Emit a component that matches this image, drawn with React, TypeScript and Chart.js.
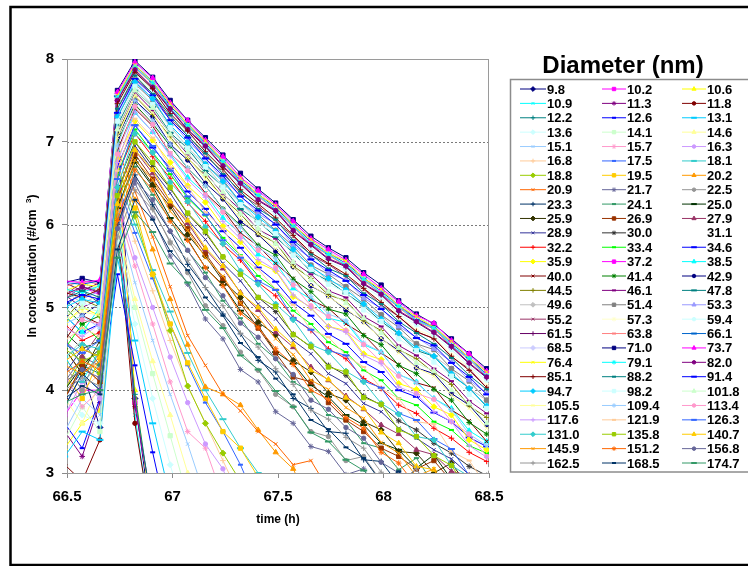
import React, { useEffect, useRef } from "react";
import { Chart, registerables } from "chart.js";
import { drawPoint } from "chart.js/helpers";

Chart.register(...registerables);

const FONT = '"Liberation Sans", Arial, sans-serif';

// time (h) of each measurement
const times = [
  66.489, 66.572, 66.656, 66.739, 66.822, 66.906, 66.989, 67.072, 67.156, 67.239,
  67.322, 67.406, 67.489, 67.572, 67.656, 67.739, 67.822, 67.906, 67.989, 68.072,
  68.156, 68.239, 68.322, 68.406, 68.489,
];

// diameters (nm), legend order
const diameters = [
  "9.8", "10.2", "10.6", "10.9", "11.3", "11.8", "12.2", "12.6", "13.1",
  "13.6", "14.1", "14.6", "15.1", "15.7", "16.3", "16.8", "17.5", "18.1",
  "18.8", "19.5", "20.2", "20.9", "21.7", "22.5", "23.3", "24.1", "25.0",
  "25.9", "26.9", "27.9", "28.9", "30.0", "31.1", "32.2", "33.4", "34.6",
  "35.9", "37.2", "38.5", "40.0", "41.4", "42.9", "44.5", "46.1", "47.8",
  "49.6", "51.4", "53.3", "55.2", "57.3", "59.4", "61.5", "63.8", "66.1",
  "68.5", "71.0", "73.7", "76.4", "79.1", "82.0", "85.1", "88.2", "91.4",
  "94.7", "98.2", "101.8", "105.5", "109.4", "113.4", "117.6", "121.9", "126.3",
  "131.0", "135.8", "140.7", "145.9", "151.2", "156.8", "162.5", "168.5", "174.7",
];

// ln concentration (#/cm3) per diameter, one row per series (values at times[k])
const lnConc: number[][] = [
  [3.90, 4.25, 3.55, 7.10, 3.90, 2.30],
  [3.70, 4.00, 4.00, 6.90, 3.85, 2.50],
  [3.30, 3.60, 3.75, 6.70, 4.00, 2.40],
  [4.40, 4.10, 4.50, 6.40, 3.70, 2.20],
  [3.50, 3.20, 3.85, 6.20, 3.80, 2.60],
  [3.10, 2.90, 3.40, 6.00, 3.60, 2.30],
  [4.60, 4.30, 4.20, 5.80, 3.95, 2.50],
  [3.60, 3.30, 3.90, 5.40, 4.30, 3.25, 2.30],
  [3.20, 3.50, 3.40, 5.60, 4.60, 3.60, 2.70],
  [4.00, 3.70, 3.60, 5.80, 4.80, 3.90, 3.10, 2.40],
  [3.40, 3.80, 3.50, 5.90, 5.00, 4.20, 3.45, 2.70],
  [3.90, 3.60, 4.10, 6.00, 5.10, 4.35, 3.70, 3.00, 2.40],
  [3.50, 3.90, 3.70, 6.10, 5.30, 4.60, 3.95, 3.35, 2.70],
  [4.20, 3.80, 4.00, 6.20, 5.50, 4.80, 4.10, 3.50, 3.30, 2.70],
  [3.70, 4.10, 3.90, 6.30, 5.60, 5.00, 4.40, 3.85, 3.35, 3.05, 2.50],
  [4.30, 4.00, 4.20, 6.40, 5.80, 5.20, 4.60, 4.05, 3.60, 3.15, 2.70],
  [3.80, 4.20, 4.00, 6.50, 5.90, 5.35, 4.80, 4.30, 3.85, 3.50, 3.10, 2.60],
  [4.40, 4.10, 4.30, 6.60, 6.00, 5.45, 4.95, 4.45, 4.00, 3.65, 3.30, 3.00, 2.60],
  [4.00, 4.40, 4.20, 6.70, 6.10, 5.40, 4.72, 4.05, 3.60, 3.24, 2.90, 2.50],
  [4.20, 3.90, 4.40, 6.70, 6.20, 5.40, 4.80, 4.33, 3.90, 3.50, 3.30, 2.95, 2.50],
  [3.90, 4.30, 4.10, 6.80, 6.30, 5.70, 5.10, 4.55, 4.04, 3.95, 3.82, 3.52, 3.25, 3.05, 2.60],
  [4.50, 4.20, 4.40, 6.90, 6.40, 5.85, 5.25, 4.66, 4.30, 3.95, 3.75, 3.50, 3.35, 3.10, 3.15, 2.80, 2.40],
  [4.10, 4.40, 4.30, 6.00, 6.50, 6.08, 5.62, 5.28, 4.86, 4.62, 4.25, 4.10, 3.74, 3.60, 3.32, 3.26, 2.98, 3.05, 2.70, 2.35],
  [4.30, 4.00, 4.50, 6.10, 6.55, 6.20, 5.78, 5.42, 5.02, 4.78, 4.46, 4.24, 3.95, 3.80, 3.50, 3.44, 3.15, 3.20, 2.90, 3.02, 2.60],
  [3.80, 4.20, 4.00, 6.00, 6.60, 6.24, 5.92, 5.52, 5.24, 4.92, 4.68, 4.36, 4.22, 3.90, 3.78, 3.50, 3.48, 3.16, 3.14, 2.86, 3.05, 2.70, 2.40],
  [4.40, 4.60, 4.30, 6.20, 6.70, 6.36, 6.06, 5.68, 5.42, 5.08, 4.87, 4.56, 4.38, 4.10, 3.98, 3.70, 3.64, 3.36, 3.30, 3.04, 3.18, 2.86, 2.74, 2.45],
  [4.00, 4.30, 4.50, 6.20, 6.75, 6.46, 6.08, 5.82, 5.48, 5.27, 4.96, 4.78, 4.46, 4.32, 4.06, 3.92, 3.70, 3.58, 3.36, 3.28, 3.06, 3.22, 2.92, 2.70, 2.84],
  [4.50, 4.20, 4.60, 6.30, 6.80, 6.48, 6.22, 5.88, 5.62, 5.32, 5.12, 4.82, 4.67, 4.36, 4.22, 3.96, 3.88, 3.62, 3.52, 3.26, 3.24, 3.00, 3.12, 2.82, 2.72],
  [3.90, 4.30, 4.10, 6.30, 6.85, 6.55, 6.25, 5.95, 5.65, 5.35, 5.05, 4.75, 4.45, 4.16, 4.10, 3.85, 3.64, 3.50, 3.30, 3.20, 3.05, 3.15, 2.90, 2.75, 2.80],
  [4.60, 4.40, 4.70, 6.40, 6.90, 6.62, 6.28, 6.02, 5.70, 5.47, 5.18, 4.97, 4.70, 4.52, 4.28, 4.12, 3.93, 3.77, 3.58, 3.47, 3.28, 3.22, 3.02, 2.97, 2.78],
  [4.20, 4.50, 4.40, 6.40, 6.95, 6.66, 6.38, 6.06, 5.82, 5.53, 5.32, 5.04, 4.86, 4.60, 4.44, 4.20, 4.08, 3.84, 3.74, 3.54, 3.42, 3.28, 3.17, 2.98, 2.92],
  [4.70, 4.50, 4.60, 6.50, 7.00, 6.70, 6.44, 6.13, 5.90, 5.61, 5.40, 5.12, 4.95, 4.68, 4.52, 4.30, 4.18, 3.93, 3.82, 3.63, 3.52, 3.36, 3.24, 3.08, 2.97],
  [4.40, 4.60, 4.50, 6.50, 7.05, 6.77, 6.48, 6.20, 5.95, 5.70, 5.45, 5.23, 5.00, 4.80, 4.60, 4.42, 4.25, 4.06, 3.90, 3.74, 3.60, 3.46, 3.30, 3.18, 3.05],
  [4.80, 4.60, 4.70, 6.60, 7.10, 6.82, 6.56, 6.26, 6.04, 5.76, 5.57, 5.30, 5.14, 4.88, 4.72, 4.50, 4.38, 4.14, 4.02, 3.82, 3.72, 3.54, 3.42, 3.25, 3.14],
  [4.50, 4.80, 4.60, 6.60, 7.15, 6.87, 6.61, 6.32, 6.11, 5.84, 5.63, 5.38, 5.22, 4.96, 4.80, 4.58, 4.46, 4.24, 4.12, 3.90, 3.82, 3.62, 3.52, 3.33, 3.24],
  [4.90, 4.70, 4.80, 6.70, 7.20, 6.93, 6.68, 6.40, 6.19, 5.92, 5.72, 5.48, 5.31, 5.06, 4.90, 4.68, 4.56, 4.34, 4.22, 4.00, 3.92, 3.73, 3.62, 3.43, 3.32],
  [4.80, 5.00, 4.90, 6.80, 7.25, 7.02, 6.75, 6.47, 6.27, 5.98, 5.79, 5.54, 5.44, 5.13, 5.00, 4.77, 4.72, 4.44, 4.37, 4.08, 4.01, 3.80, 3.70, 3.40, 3.28],
  [5.10, 5.25, 5.15, 7.50, 7.90, 7.71, 7.40, 7.20, 6.95, 6.77, 6.50, 6.36, 6.16, 5.99, 5.75, 5.65, 5.49, 5.35, 5.15, 5.02, 4.85, 4.76, 4.52, 4.40, 4.16],
  [4.90, 4.70, 5.00, 6.90, 7.35, 7.12, 6.85, 6.57, 6.37, 6.08, 5.89, 5.64, 5.54, 5.23, 5.10, 4.87, 4.82, 4.55, 4.46, 4.19, 4.10, 3.90, 3.78, 3.51, 3.38],
  [4.60, 4.90, 4.80, 6.90, 7.40, 7.19, 6.86, 6.66, 6.38, 6.18, 5.90, 5.74, 5.53, 5.35, 5.09, 4.99, 4.80, 4.67, 4.45, 4.31, 4.09, 4.03, 3.76, 3.63, 3.38],
  [5.00, 4.80, 4.90, 7.00, 7.45, 7.22, 6.95, 6.68, 6.47, 6.19, 5.99, 5.75, 5.63, 5.34, 5.19, 4.98, 4.92, 4.66, 4.55, 4.30, 4.20, 4.01, 3.88, 3.61, 3.47],
  [5.10, 4.90, 5.05, 7.05, 7.50, 7.30, 6.97, 6.78, 6.50, 6.31, 6.04, 5.88, 5.68, 5.49, 5.26, 5.14, 4.97, 4.83, 4.62, 4.48, 4.27, 4.20, 3.96, 3.82, 3.58],
  [4.85, 5.10, 5.00, 7.10, 7.55, 7.33, 7.06, 6.80, 6.59, 6.32, 6.13, 5.89, 5.78, 5.50, 5.35, 5.15, 5.08, 4.84, 4.72, 4.49, 4.38, 4.21, 4.07, 3.81, 3.67],
  [5.15, 5.00, 5.10, 7.15, 7.60, 7.38, 7.10, 6.85, 6.63, 6.37, 6.18, 5.94, 5.83, 5.55, 5.40, 5.20, 5.12, 4.89, 4.77, 4.54, 4.42, 4.26, 4.11, 3.87, 3.72],
  [5.00, 5.20, 5.05, 7.20, 7.62, 7.42, 7.11, 6.92, 6.65, 6.46, 6.19, 6.04, 5.85, 5.66, 5.43, 5.32, 5.17, 5.02, 4.83, 4.68, 4.48, 4.41, 4.18, 4.03, 3.80],
  [5.20, 5.05, 5.15, 7.25, 7.66, 7.44, 7.19, 6.93, 6.72, 6.46, 6.27, 6.04, 5.93, 5.66, 5.51, 5.32, 5.25, 5.02, 4.91, 4.68, 4.56, 4.41, 4.26, 4.02, 3.88],
  [5.10, 5.25, 5.20, 7.30, 7.70, 7.50, 7.20, 6.99, 6.73, 6.54, 6.27, 6.12, 5.93, 5.74, 5.51, 5.40, 5.25, 5.10, 4.91, 4.76, 4.56, 4.49, 4.26, 4.11, 3.88],
  [5.25, 5.10, 5.20, 7.35, 7.74, 7.52, 7.27, 7.01, 6.80, 6.55, 6.35, 6.13, 6.01, 5.75, 5.59, 5.41, 5.33, 5.11, 4.99, 4.77, 4.64, 4.50, 4.34, 4.12, 3.96],
  [5.15, 5.30, 5.20, 7.40, 7.77, 7.58, 7.28, 7.08, 6.83, 6.64, 6.37, 6.23, 6.04, 5.86, 5.63, 5.52, 5.37, 5.22, 5.03, 4.89, 4.70, 4.63, 4.40, 4.26, 4.03],
  [5.20, 5.10, 5.25, 7.42, 7.80, 7.61, 7.31, 7.10, 6.86, 6.66, 6.41, 6.25, 6.07, 5.88, 5.66, 5.54, 5.40, 5.24, 5.06, 4.91, 4.73, 4.65, 4.43, 4.28, 4.06],
  [5.25, 5.30, 5.20, 7.45, 7.83, 7.62, 7.36, 7.11, 6.91, 6.67, 6.46, 6.26, 6.13, 5.89, 5.72, 5.55, 5.46, 5.25, 5.12, 4.92, 4.79, 4.66, 4.49, 4.29, 4.12],
  [5.30, 5.20, 5.30, 7.50, 7.86, 7.65, 7.39, 7.14, 6.94, 6.70, 6.49, 6.29, 6.16, 5.92, 5.75, 5.58, 5.49, 5.28, 5.15, 4.95, 4.82, 4.69, 4.52, 4.32, 4.15],
  [5.25, 5.32, 5.28, 7.52, 7.89, 7.70, 7.40, 7.19, 6.95, 6.75, 6.50, 6.34, 6.17, 5.97, 5.76, 5.63, 5.50, 5.33, 5.16, 5.00, 4.83, 4.74, 4.53, 4.37, 4.16],
  [5.30, 5.28, 5.32, 7.55, 7.92, 7.73, 7.43, 7.22, 6.98, 6.78, 6.53, 6.37, 6.20, 6.00, 5.79, 5.66, 5.53, 5.36, 5.19, 5.03, 4.86, 4.77, 4.56, 4.40, 4.19],
  [5.28, 5.33, 5.30, 7.58, 7.94, 7.75, 7.45, 7.24, 7.00, 6.80, 6.55, 6.39, 6.22, 6.02, 5.81, 5.68, 5.55, 5.38, 5.21, 5.05, 4.88, 4.79, 4.58, 4.42, 4.21],
  [5.30, 5.35, 5.30, 7.62, 7.98, 7.78, 7.50, 7.26, 7.05, 6.84, 6.62, 6.43, 6.26, 6.06, 5.86, 5.72, 5.60, 5.42, 5.27, 5.08, 4.92, 4.80, 4.62, 4.44, 4.26],
  [5.32, 5.30, 5.33, 7.60, 7.96, 7.77, 7.47, 7.26, 7.02, 6.82, 6.57, 6.41, 6.24, 6.04, 5.83, 5.70, 5.57, 5.40, 5.23, 5.07, 4.90, 4.81, 4.60, 4.44, 4.23],
  [5.20, 5.28, 5.25, 7.56, 7.93, 7.72, 7.46, 7.21, 7.01, 6.77, 6.56, 6.36, 6.23, 5.99, 5.82, 5.65, 5.56, 5.35, 5.22, 5.02, 4.89, 4.76, 4.59, 4.39, 4.22],
  [5.22, 5.18, 5.26, 7.53, 7.90, 7.71, 7.41, 7.20, 6.96, 6.76, 6.51, 6.35, 6.18, 5.98, 5.77, 5.64, 5.51, 5.34, 5.17, 5.01, 4.84, 4.75, 4.54, 4.38, 4.17],
  [5.15, 5.25, 5.18, 7.50, 7.87, 7.66, 7.40, 7.15, 6.95, 6.71, 6.50, 6.30, 6.17, 5.93, 5.76, 5.59, 5.50, 5.29, 5.16, 4.96, 4.83, 4.70, 4.53, 4.33, 4.16],
  [5.18, 5.12, 5.22, 7.46, 7.84, 7.64, 7.34, 7.13, 6.88, 6.67, 6.42, 6.25, 6.08, 5.87, 5.66, 5.53, 5.40, 5.23, 5.06, 4.89, 4.71, 4.62, 4.41, 4.24, 4.03],
  [5.10, 5.20, 5.12, 7.40, 7.80, 7.58, 7.32, 7.07, 6.86, 6.61, 6.40, 6.19, 6.06, 5.81, 5.64, 5.47, 5.38, 5.17, 5.04, 4.83, 4.69, 4.56, 4.39, 4.18, 4.01],
  [5.05, 5.15, 5.10, 7.35, 7.76, 7.56, 7.26, 7.05, 6.80, 6.59, 6.34, 6.17, 6.00, 5.79, 5.58, 5.45, 5.32, 5.15, 4.98, 4.81, 4.63, 4.54, 4.33, 4.16, 3.95],
  [5.00, 5.10, 5.05, 7.30, 7.72, 7.52, 7.20, 6.99, 6.73, 6.52, 6.27, 6.09, 5.92, 5.70, 5.49, 5.35, 5.21, 5.04, 4.86, 4.69, 4.51, 4.41, 4.20, 4.02, 3.81],
  [4.95, 5.05, 5.00, 7.25, 7.67, 7.45, 7.17, 6.92, 6.70, 6.45, 6.24, 6.02, 5.89, 5.63, 5.46, 5.28, 5.18, 4.97, 4.83, 4.62, 4.48, 4.34, 4.17, 3.95, 3.78],
  [4.90, 5.00, 4.95, 7.15, 7.62, 7.41, 7.09, 6.87, 6.61, 6.39, 6.13, 5.95, 5.77, 5.55, 5.33, 5.19, 5.05, 4.87, 4.69, 4.51, 4.33, 4.23, 4.00, 3.84, 3.60],
  [4.85, 4.95, 4.90, 7.05, 7.56, 7.35, 7.03, 6.81, 6.55, 6.33, 6.07, 5.89, 5.71, 5.49, 5.27, 5.13, 4.99, 4.81, 4.63, 4.45, 4.27, 4.17, 3.94, 3.78, 3.54],
  [4.80, 4.90, 4.75, 6.95, 7.50, 7.26, 6.97, 6.68, 6.47, 6.18, 5.97, 5.72, 5.59, 5.30, 5.13, 4.92, 4.84, 4.57, 4.46, 4.19, 4.09, 3.90, 3.76, 3.47, 3.33],
  [4.70, 4.85, 4.80, 6.85, 7.43, 7.21, 6.86, 6.65, 6.36, 6.15, 5.86, 5.69, 5.48, 5.27, 5.02, 4.89, 4.72, 4.55, 4.34, 4.17, 3.96, 3.89, 3.62, 3.47, 3.20],
  [4.75, 4.65, 4.80, 6.75, 7.36, 7.12, 6.83, 6.54, 6.33, 6.04, 5.83, 5.58, 5.45, 5.15, 4.99, 4.77, 4.70, 4.42, 4.32, 4.04, 3.95, 3.74, 3.62, 3.33, 3.19],
  [4.60, 4.75, 4.65, 6.65, 7.28, 7.05, 6.69, 6.46, 6.15, 5.95, 5.62, 5.46, 5.22, 5.03, 4.73, 4.64, 4.42, 4.28, 4.02, 3.90, 3.62, 3.59, 3.26, 3.15, 2.84],
  [4.55, 4.45, 4.60, 6.55, 7.20, 6.95, 6.65, 6.34, 6.12, 5.81, 5.60, 5.32, 5.21, 4.87, 4.73, 4.48, 4.42, 4.11, 4.03, 3.72, 3.64, 3.41, 3.29, 2.97, 2.84],
  [4.40, 4.55, 4.50, 6.45, 7.10, 6.87, 6.51, 6.28, 5.97, 5.77, 5.44, 5.28, 5.04, 4.85, 4.55, 4.46, 4.23, 4.10, 3.84, 3.71, 3.44, 3.40, 3.09, 2.96, 2.66],
  [4.50, 4.35, 4.45, 6.35, 7.00, 6.75, 6.45, 6.14, 5.92, 5.61, 5.40, 5.12, 5.01, 4.67, 4.53, 4.28, 4.22, 3.91, 3.83, 3.52, 3.44, 3.21, 3.09, 2.78, 2.64],
  [4.35, 4.50, 4.40, 6.25, 6.90, 6.66, 6.28, 6.05, 5.72, 5.50, 5.17, 5.00, 4.74, 4.55, 4.24, 4.13, 3.91, 3.78, 3.49, 3.36, 3.08, 3.04, 2.72, 2.55],
  [4.30, 4.20, 4.35, 6.15, 6.78, 6.54, 6.16, 5.93, 5.60, 5.38, 5.05, 4.88, 4.62, 4.43, 4.12, 4.01, 3.79, 3.66, 3.37, 3.24, 2.96, 3.05, 2.70, 2.60],
  [4.20, 4.35, 4.25, 6.05, 6.66, 6.42, 6.04, 5.81, 5.48, 5.26, 4.93, 4.76, 4.50, 4.31, 4.00, 3.89, 3.67, 3.54, 3.25, 3.12, 2.84, 2.95, 2.60],
  [4.10, 4.25, 4.15, 5.95, 6.54, 6.30, 5.92, 5.69, 5.36, 5.14, 4.81, 4.64, 4.38, 4.19, 3.88, 3.77, 3.55, 3.42, 3.13, 3.00, 2.72, 2.80, 2.50],
  [4.00, 4.15, 4.05, 5.85, 6.42, 6.18, 5.80, 5.57, 5.24, 5.02, 4.69, 4.52, 4.26, 4.07, 3.76, 3.65, 3.43, 3.30, 3.01, 2.88, 3.05, 2.70, 2.45],
  [3.90, 4.05, 3.95, 5.70, 6.30, 6.06, 5.68, 5.45, 5.12, 4.90, 4.57, 4.40, 4.14, 3.95, 3.64, 3.53, 3.31, 3.18, 2.89, 3.02, 2.75, 2.52],
  [3.85, 3.95, 4.00, 5.60, 6.15, 5.91, 5.53, 5.30, 4.97, 4.75, 4.42, 4.25, 3.99, 3.80, 3.49, 3.38, 3.16, 3.03, 2.80, 2.92, 2.60],
];

// Excel-style automatic series colours
const seriesColors = [
  "#000080", "#FF00FF", "#FFFF00", "#00FFFF", "#800080", "#800000", "#008080", "#0000FF", "#00CCFF",
  "#CCFFFF", "#CCFFCC", "#FFFF99", "#99CCFF", "#FF99CC", "#CC99FF", "#FFCC99", "#3366FF", "#33CCCC",
  "#99CC00", "#FFCC00", "#FF9900", "#FF6600", "#666699", "#969696", "#003366", "#339966", "#003300",
  "#333300", "#993300", "#993366", "#333399", "#333333", "#FFFFFF", "#FF0000", "#00FF00", "#0000FF",
  "#FFFF00", "#FF00FF", "#00FFFF", "#800000", "#008000", "#000080", "#808000", "#800080", "#008080",
  "#C0C0C0", "#808080", "#9999FF", "#993366", "#FFFFCC", "#CCFFFF", "#660066", "#FF8080", "#0066CC",
  "#CCCCFF", "#000080", "#FF00FF", "#FFFF00", "#00FFFF", "#800080", "#800000", "#008080", "#0000FF",
  "#00CCFF", "#CCFFFF", "#CCFFCC", "#FFFF99", "#99CCFF", "#FF99CC", "#CC99FF", "#FFCC99", "#3366FF",
  "#33CCCC", "#99CC00", "#FFCC00", "#FF9900", "#FF6600", "#666699", "#969696", "#003366", "#339966",
];

const markerCycle = ["rectRot", "rect", "triangle", "crossRot", "star", "circle", "cross", "line", "longline"];

function markerOf(i: number) {
  const m = markerCycle[i % markerCycle.length];
  switch (m) {
    case "rectRot": return { style: "rectRot", r: 3.0, bw: 1 };
    case "rect": return { style: "rect", r: 3.0, bw: 1 };
    case "triangle": return { style: "triangle", r: 3.0, bw: 1 };
    case "crossRot": return { style: "crossRot", r: 2.5, bw: 1 };
    case "star": return { style: "star", r: 2.8, bw: 1 };
    case "circle": return { style: "circle", r: 2.2, bw: 1 };
    case "cross": return { style: "cross", r: 2.8, bw: 1 };
    case "line": return { style: "line", r: 2.5, bw: 2 };
    default: return { style: "line", r: 3.5, bw: 2 };
  }
}

const decorPlugin = {
  id: "decor",
  beforeDatasetsDraw(chart: any) {
    const { ctx, chartArea: a, scales } = chart;
    const ys = scales.y;
    ctx.save();
    ctx.strokeStyle = "#7a7a7a";
    ctx.lineWidth = 1;
    ctx.setLineDash([2, 2]);
    for (const t of ys.ticks) {
      if (t.value <= ys.min || t.value >= ys.max) continue;
      const y = Math.round(ys.getPixelForValue(t.value)) + 0.5;
      ctx.beginPath();
      ctx.moveTo(a.left, y);
      ctx.lineTo(a.right, y);
      ctx.stroke();
    }
    ctx.setLineDash([]);
    ctx.strokeStyle = "#9a9a9a";
    ctx.strokeRect(a.left + 0.5, a.top + 0.5, a.right - a.left - 1, a.bottom - a.top);
    ctx.restore();
  },
  afterDraw(chart: any) {
    const { ctx, chartArea: a } = chart;
    ctx.save();
    // outer frame
    ctx.strokeStyle = "#000";
    ctx.lineWidth = 2.5;
    ctx.strokeRect(10.5, 7, 800, 558);

    // axis titles
    ctx.fillStyle = "#000";
    ctx.font = `bold 12px ${FONT}`;
    ctx.textAlign = "center";
    ctx.textBaseline = "middle";
    ctx.fillText("time (h)", (a.left + a.right) / 2, 520);

    ctx.save();
    ctx.translate(32, (a.top + a.bottom) / 2);
    ctx.rotate(-Math.PI / 2);
    const s1 = "ln concentration (#/cm  ";
    const s2 = "3";
    const s3 = ")";
    ctx.font = `bold 12px ${FONT}`;
    const w1 = ctx.measureText(s1).width;
    const w3 = ctx.measureText(s3).width;
    ctx.font = `bold 8px ${FONT}`;
    const w2 = ctx.measureText(s2).width;
    let x = -(w1 + w2 + w3) / 2;
    ctx.textAlign = "left";
    ctx.textBaseline = "alphabetic";
    ctx.font = `bold 12px ${FONT}`;
    ctx.fillText(s1, x, 4);
    x += w1;
    ctx.font = `bold 8px ${FONT}`;
    ctx.fillText(s2, x, -1);
    x += w2;
    ctx.font = `bold 12px ${FONT}`;
    ctx.fillText(s3, x, 4);
    ctx.restore();

    // legend title
    ctx.font = `bold 24px ${FONT}`;
    ctx.textAlign = "center";
    ctx.textBaseline = "alphabetic";
    ctx.fillText("Diameter (nm)", 623, 73);

    // legend box
    ctx.strokeStyle = "#8c8c8c";
    ctx.lineWidth = 1.5;
    ctx.strokeRect(510.5, 79.5, 300, 392.5);

    // legend entries
    const colLine = [[520, 546], [602, 626], [682, 706]];
    const rowH = 14.385;
    ctx.font = `bold 13px ${FONT}`;
    ctx.textAlign = "left";
    chart.data.datasets.forEach((ds: any, i: number) => {
      const r = Math.floor(i / 3);
      const c = i % 3;
      const yc = 89 + r * rowH;
      const [x0, x1] = colLine[c];
      ctx.strokeStyle = ds.borderColor;
      ctx.fillStyle = ds.borderColor;
      ctx.lineWidth = 1;
      ctx.beginPath();
      ctx.moveTo(x0, yc);
      ctx.lineTo(x1, yc);
      ctx.stroke();
      const mk = markerOf(i);
      ctx.lineWidth = mk.bw;
      drawPoint(ctx, { pointStyle: mk.style, radius: mk.r * 0.8, rotation: 0, borderWidth: mk.bw } as any, (x0 + x1) / 2, yc);
      ctx.fillStyle = "#000";
      ctx.fillText(ds.label, x1 + 1, yc + 4.5);
    });
    ctx.restore();
  },
};

export default function App() {
  const ref = useRef<HTMLCanvasElement | null>(null);
  useEffect(() => {
    if (!ref.current) return;
    const tickFont = { family: FONT, size: 15, weight: "bold" as const };
    const chart = new Chart(ref.current, {
      type: "line",
      data: {
        datasets: lnConc.map((vals, i) => {
          const mk = markerOf(i);
          const col = seriesColors[i];
          return {
            label: diameters[i],
            data: vals.map((v, k) => ({ x: times[k], y: v })),
            borderColor: col,
            backgroundColor: col,
            borderWidth: 1,
            pointStyle: mk.style as any,
            pointRadius: mk.r,
            pointBorderWidth: mk.bw,
            pointBackgroundColor: col,
            pointBorderColor: col,
            tension: 0,
            order: -i,
          };
        }),
      },
      options: {
        animation: false,
        responsive: false,
        devicePixelRatio: 1,
        events: [],
        layout: { padding: { left: 0, top: 59, right: 259, bottom: 0 } },
        plugins: { legend: { display: false }, tooltip: { enabled: false }, title: { display: false } },
        scales: {
          x: {
            type: "linear",
            min: 66.5,
            max: 68.5,
            ticks: {
              stepSize: 0.5,
              color: "#000",
              font: tickFont,
              padding: 10,
              maxRotation: 0,
              autoSkip: false,
              callback: (v: any) => String(Math.round(Number(v) * 10) / 10),
            },
            grid: { drawOnChartArea: false, drawTicks: true, tickLength: 5, color: "#8a8a8a" },
            border: { display: false },
            afterFit: (s: any) => { s.height = 93; },
          },
          y: {
            type: "linear",
            min: 3,
            max: 8,
            ticks: { stepSize: 1, color: "#000", font: tickFont, padding: 8 },
            grid: { drawOnChartArea: false, drawTicks: true, tickLength: 5, color: "#8a8a8a" },
            border: { display: false },
            afterFit: (s: any) => { s.width = 67; },
          },
        },
      },
      plugins: [decorPlugin],
    });
    return () => chart.destroy();
  }, []);
  return (
    <div style={{ position: "absolute", left: 0, top: 0, width: 748, height: 566, background: "#fff" }}>
      <canvas ref={ref} width={748} height={566} style={{ width: 748, height: 566, display: "block" }} />
    </div>
  );
}
